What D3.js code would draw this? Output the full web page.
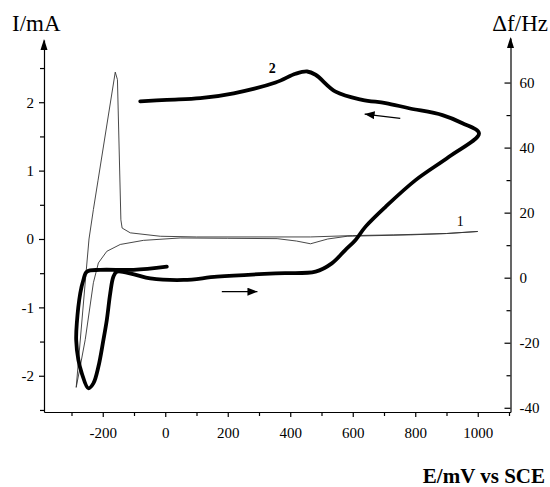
<!DOCTYPE html>
<html>
<head>
<meta charset="utf-8">
<script src="https://cdn.jsdelivr.net/npm/d3@7"></script>
<style>
  body { margin: 0; background: #fff; }
  svg text { font-family: "Liberation Serif", "Times New Roman", serif !important; }
</style>
</head>
<body>
<div id="chart"></div>
<script>
// taille de la figure
const width = 550;
const height = 487;

// courbe 1 : courant (mA) en fonction du potentiel (mV)
const e1 = [-285, -253, -244, -230, -215, -160, -153, -142, -138, -112, -16, 100, 300, 465, 600, 731, 900, 1000,
            900, 785, 582, 520, 465, 420, 358, 200, 48, -70, -144, -187, -214, -230, -256, -272, -285];
const i1 = [-2.17, -0.47, 0.0, 0.43, 0.86, 2.44, 2.33, 0.28, 0.16, 0.09, 0.04, 0.03, 0.03, 0.03, 0.05, 0.06, 0.08, 0.11,
            0.08, 0.06, 0.04, 0.0, -0.07, -0.03, 0.005, 0.01, 0.015, -0.02, -0.08, -0.18, -0.35, -0.64, -1.47, -1.86, -2.17];

// courbe 2 : variation de fréquence (Hz) en fonction du potentiel (mV)
const e2 = [5, -101, -208, -251, -262, -272, -283, -285, -278, -267, -246, -230, -214, -198, -187, -176, -166, -155,
            -100, -48, 59, 166, 353, 481, 533, 576, 609, 641, 705, 801, 908, 1004,
            951, 887, 780, 705, 630, 545, 481, 454, 417, 353, 219, 112, 5, -80];
const f2 = [3.4, 2.4, 2.4, 1.85, -0.7, -4.8, -14, -19.2, -25.3, -29.4, -34, -32.5, -27.4, -19.2, -13, -4.8, 0.3, 1.85,
            1.0, -0.2, -0.7, 0.3, 1.35, 1.85, 4.4, 8.5, 11.6, 15.7, 21.8, 30, 37.2, 44.4,
            47.5, 50, 52.1, 53.7, 54.7, 57.2, 62.4, 63.4, 62.7, 60, 56.7, 55.2, 54.7, 54.2];

// graduations
const xTicks = d3.range(-300, 1101, 100);
const yLeftTicks = d3.range(-2.5, 2.51, 0.5);
const yRightTicks = d3.range(-40, 61, 10);

const svg = d3.select('#chart')
  .append('svg')
  .attr('width', width)
  .attr('height', height);

// échelles
const x = d3.scaleLinear().domain([-388, 1104.8]).range([44, 510.5]);
const yL = d3.scaleLinear().domain([-2.53, 2.91]).range([412, 40]);
const yR = d3.scaleLinear().domain([-41.3, 73.7]).range([412, 38]);

// flèches
svg.append('defs').append('marker')
  .attr('id', 'head')
  .attr('viewBox', '0 0 10 8')
  .attr('refX', 10).attr('refY', 4)
  .attr('markerWidth', 10).attr('markerHeight', 8)
  .attr('markerUnits', 'userSpaceOnUse')
  .attr('orient', 'auto')
  .append('path')
  .attr('d', 'M0,0L10,4L0,8Z')
  .attr('fill', '#000');

// axe X
const xAxis = svg.append('g')
  .attr('transform', 'translate(0,412)')
  .call(d3.axisBottom(x).tickValues(xTicks)
    .tickFormat(d => d % 200 === 0 ? d : '')
    .tickSize(5).tickSizeOuter(0).tickPadding(10));

// axe Y gauche
const leftAxis = svg.append('g')
  .attr('transform', 'translate(44,0)')
  .call(d3.axisLeft(yL).tickValues(yLeftTicks)
    .tickFormat(d => Number.isInteger(d) ? d : '')
    .tickSize(5).tickSizeOuter(0).tickPadding(5));

// axe Y droit (graduations vers l'intérieur)
const rightAxis = svg.append('g')
  .attr('transform', 'translate(510.5,0)')
  .call(d3.axisRight(yR).tickValues(yRightTicks)
    .tickFormat(d => d % 20 === 0 ? d : '')
    .tickSize(-6).tickSizeOuter(0).tickPadding(9));

[xAxis, leftAxis, rightAxis].forEach(g => {
  g.attr('font-family', '"Liberation Serif", serif').attr('font-size', 15);
  g.selectAll('text').attr('fill', '#000');
  g.selectAll('line, path').attr('stroke', '#000').attr('stroke-width', 1.2);
});
xAxis.selectAll('.tick').filter(d => d % 200 !== 0).select('line').attr('y2', 4);
leftAxis.selectAll('.tick').filter(d => !Number.isInteger(d)).select('line').attr('x2', -4);
rightAxis.selectAll('.tick').filter(d => d % 20 !== 0).select('line').attr('x2', -4);

// pointes des axes verticaux
svg.append('path')
  .attr('d', `M44,${yL.range()[1] - 1}l-3.5,11h7Z`)
  .attr('fill', '#000');
svg.append('path')
  .attr('d', `M510.5,${yR.range()[1] - 1}l-3.5,11h7Z`)
  .attr('fill', '#000');

// courbe 1 (trait fin)
const line1 = d3.line()
  .x(d => x(d[0]))
  .y(d => yL(d[1]));
svg.append('path')
  .datum(d3.zip(e1, i1))
  .attr('d', line1)
  .attr('fill', 'none')
  .attr('stroke', '#333')
  .attr('stroke-width', 0.9);

// courbe 2 (trait épais)
const line2 = d3.line()
  .x(d => x(d[0]))
  .y(d => yR(d[1]))
  .curve(d3.curveCatmullRom.alpha(0.5));
svg.append('path')
  .datum(d3.zip(e2, f2))
  .attr('d', line2)
  .attr('fill', 'none')
  .attr('stroke', '#000')
  .attr('stroke-width', 3.8)
  .attr('stroke-linejoin', 'round')
  .attr('stroke-linecap', 'round');

// flèches de sens de balayage
svg.append('line')
  .attr('x1', x(752)).attr('y1', yR(49))
  .attr('x2', x(638)).attr('y2', yR(50.3))
  .attr('stroke', '#000').attr('stroke-width', 1.2)
  .attr('marker-end', 'url(#head)');
svg.append('line')
  .attr('x1', x(181)).attr('y1', yR(-4.3))
  .attr('x2', x(295)).attr('y2', yR(-4.3))
  .attr('stroke', '#000').attr('stroke-width', 1.2)
  .attr('marker-end', 'url(#head)');

// étiquettes des courbes
svg.append('text')
  .attr('x', x(342)).attr('y', yR(64.4) + 5)
  .attr('text-anchor', 'middle')
  .style('font-size', '14px').style('font-weight', 'bold')
  .text('2');
svg.append('text')
  .attr('x', x(944)).attr('y', yL(0.26) + 5)
  .attr('text-anchor', 'middle')
  .style('font-size', '14px')
  .text('1');

// titres des axes
svg.append('text')
  .attr('x', 12).attr('y', 31)
  .style('font-size', '23px')
  .text('I/mA');
svg.append('text')
  .attr('x', 548).attr('y', 31)
  .attr('text-anchor', 'end')
  .style('font-size', '23px')
  .text('Δf/Hz');
svg.append('text')
  .attr('x', 545).attr('y', 483)
  .attr('text-anchor', 'end')
  .style('font-size', '21px').style('font-weight', 'bold')
  .text('E/mV vs SCE');
</script>
</body>
</html>
